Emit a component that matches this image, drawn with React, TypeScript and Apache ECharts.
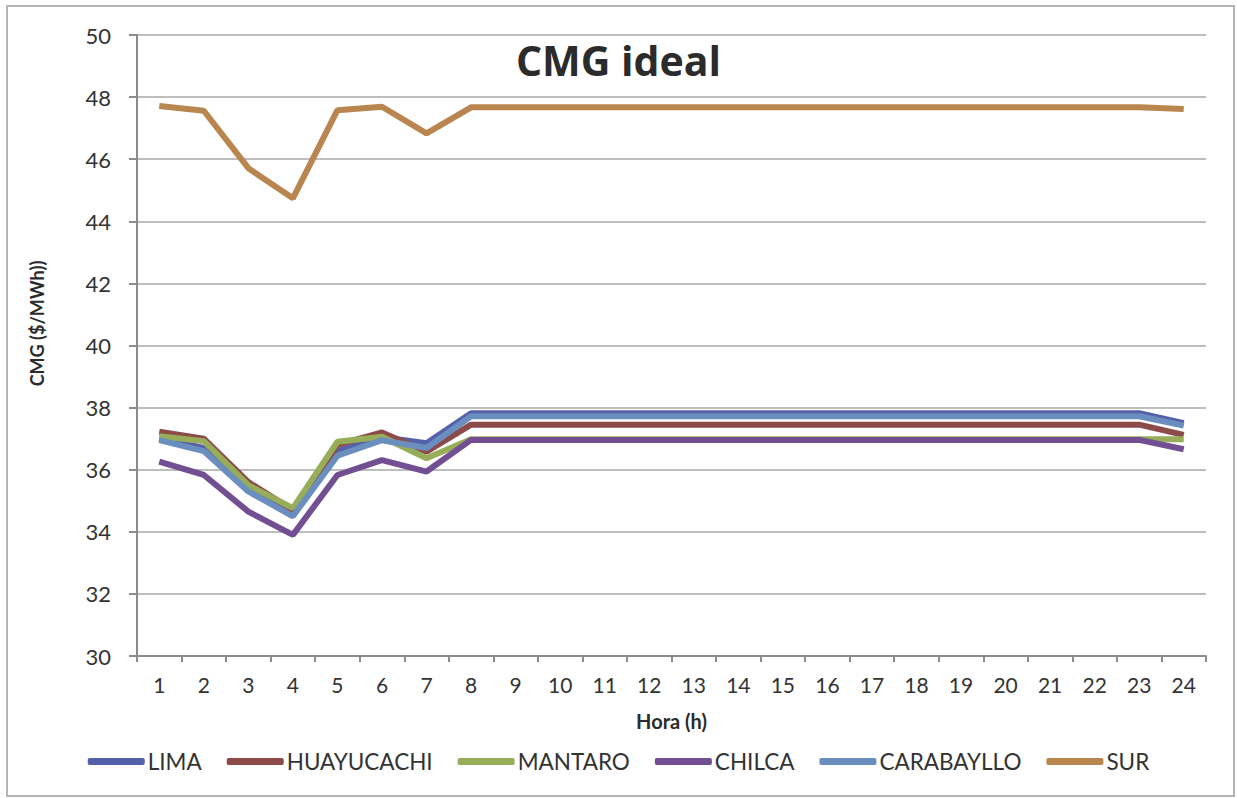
import React, { useEffect, useRef } from "react";
import * as echarts from "echarts";

const hours = ["1","2","3","4","5","6","7","8","9","10","11","12","13","14","15","16","17","18","19","20","21","22","23","24"];

const lima = [37.0, 36.7, 35.4, 34.6, 36.6, 37.05, 36.85, 37.82, 37.82, 37.82, 37.82, 37.82, 37.82, 37.82, 37.82, 37.82, 37.82, 37.82, 37.82, 37.82, 37.82, 37.82, 37.82, 37.5];
const huayucachi = [37.22, 37.0, 35.6, 34.7, 36.8, 37.2, 36.58, 37.45, 37.45, 37.45, 37.45, 37.45, 37.45, 37.45, 37.45, 37.45, 37.45, 37.45, 37.45, 37.45, 37.45, 37.45, 37.45, 37.12];
const mantaro = [37.08, 36.92, 35.5, 34.76, 36.9, 37.06, 36.37, 36.98, 36.98, 36.98, 36.98, 36.98, 36.98, 36.98, 36.98, 36.98, 36.98, 36.98, 36.98, 36.98, 36.98, 36.98, 36.98, 36.98];
const chilca = [36.26, 35.83, 34.65, 33.9, 35.83, 36.31, 35.94, 36.96, 36.96, 36.96, 36.96, 36.96, 36.96, 36.96, 36.96, 36.96, 36.96, 36.96, 36.96, 36.96, 36.96, 36.96, 36.96, 36.66];
const carabayllo = [36.95, 36.6, 35.3, 34.5, 36.45, 36.95, 36.7, 37.72, 37.72, 37.72, 37.72, 37.72, 37.72, 37.72, 37.72, 37.72, 37.72, 37.72, 37.72, 37.72, 37.72, 37.72, 37.72, 37.42];
const sur = [47.71, 47.56, 45.71, 44.74, 47.58, 47.69, 46.83, 47.67, 47.67, 47.67, 47.67, 47.67, 47.67, 47.67, 47.67, 47.67, 47.67, 47.67, 47.67, 47.67, 47.67, 47.67, 47.67, 47.62];

const seriesNames = ["LIMA", "HUAYUCACHI", "MANTARO", "CHILCA", "CARABAYLLO", "SUR"];
const seriesData = [lima, huayucachi, mantaro, chilca, carabayllo, sur];
const seriesColors = ["#5560AA", "#8C4B48", "#97AD5A", "#714F92", "#6A8EBE", "#B8864E"];

const FONT = "Lato, 'Open Sans', sans-serif";

export default function App() {
  const ref = useRef<HTMLDivElement>(null);
  useEffect(() => {
    document.body.style.margin = "0";
    const chart = echarts.init(ref.current!, null, { renderer: "svg" });
    chart.setOption({
      animation: false,
      backgroundColor: "#ffffff",
      textStyle: { fontFamily: FONT },
      title: {
        text: "CMG ideal",
        left: "center",
        top: 34,
        textStyle: { fontSize: 41, fontWeight: "bold", color: "#2b2b2b", fontFamily: "'Open Sans', sans-serif" },
      },
      graphic: [
        {
          type: "rect",
          shape: { x: 7, y: 6, width: 1227, height: 790 },
          style: { fill: "none", stroke: "#b5b5b5", lineWidth: 2 },
          silent: true,
        },
      ],
      grid: { left: 137, right: 31, top: 35, bottom: 142, containLabel: false },
      legend: {
        bottom: 20,
        left: "center",
        itemWidth: 57,
        itemHeight: 7,
        itemGap: 25,
        icon: "roundRect",
        textStyle: { fontSize: 22.5, color: "#333333", fontFamily: FONT, padding: [0, 0, 0, -2] },
        data: seriesNames,
      },
      xAxis: {
        type: "category",
        data: hours,
        boundaryGap: true,
        name: "Hora (h)",
        nameLocation: "middle",
        nameGap: 55,
        nameTextStyle: { fontSize: 20, fontWeight: "bold", color: "#2b2b2b" },
        axisLine: { lineStyle: { color: "#8c8c8c", width: 2 } },
        axisTick: { show: true, alignWithLabel: false, length: 6, inside: false, lineStyle: { color: "#8c8c8c", width: 2 } },
        axisLabel: { fontSize: 21, color: "#333333", margin: 18, interval: 0 },
        splitLine: { show: false },
      },
      yAxis: {
        type: "value",
        min: 30,
        max: 50,
        interval: 2,
        name: "CMG ($/MWh))",
        nameLocation: "middle",
        nameGap: 91,
        nameRotate: 90,
        nameTextStyle: { fontSize: 18, fontWeight: "bold", color: "#2b2b2b", padding: [0, 0, 0, 44] },
        axisLine: { show: true, lineStyle: { color: "#8c8c8c", width: 2 } },
        axisTick: { show: true, length: 8, lineStyle: { color: "#8c8c8c", width: 2 } },
        axisLabel: { fontSize: 22, color: "#333333", margin: 26 },
        splitLine: { show: true, lineStyle: { color: "#a8a8a8", width: 1.5 } },
      },
      series: seriesNames.map((name, i) => ({
        name,
        type: "line",
        data: seriesData[i],
        showSymbol: false,
        symbol: "none",
        lineStyle: { width: 6, color: seriesColors[i] },
        itemStyle: { color: seriesColors[i] },
        z: 2 + i,
      })),
    });
    return () => chart.dispose();
  }, []);
  return <div ref={ref} style={{ width: 1237, height: 798 }} />;
}
